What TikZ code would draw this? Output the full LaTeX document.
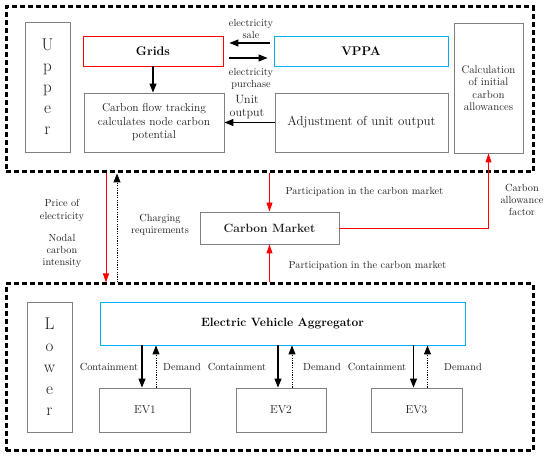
\documentclass[tikz,border=0pt]{standalone}
\usetikzlibrary{arrows.meta,calc}
\definecolor{bxgray}{RGB}{128,128,128}
\definecolor{bxblue}{RGB}{0,176,240}
\definecolor{txt}{RGB}{30,30,30}
\tikzset{
  layer/.style={draw=black, line width=3pt, dash pattern=on 5pt off 3pt, inner sep=0pt},
  gbox/.style={draw=bxgray, line width=0.9pt, inner sep=0pt, align=center, text=txt},
  rbox/.style={draw=red, line width=0.9pt, inner sep=0pt, align=center},
  bbox/.style={draw=bxblue, line width=0.9pt, inner sep=0pt, align=center},
  lbl/.style={align=center, text=txt, font=\fontsize{10.3}{12}\selectfont, inner sep=0pt},
  blk/.style={draw=black, line width=1.1pt, -{Triangle[length=9pt,width=7pt]}},
  dotarr/.style={draw=black, line width=1pt, dash pattern=on 1.2pt off 1.2pt, -{Triangle[length=9pt,width=7pt]}},
  red/.style={draw=red, line width=0.9pt, -{Triangle[length=9pt,width=6pt]}},
}
\begin{document}
\begin{tikzpicture}[x=1pt,y=-1pt]
\useasboundingbox (0,0) rectangle (550,457);
% layers
\node[layer, minimum width=527pt, minimum height=165pt] (upper) at (269.5,89.5) {};
\node[layer, minimum width=527pt, minimum height=167pt] (lower) at (269.5,367.5) {};
% upper boxes
\node[gbox, minimum width=45pt, minimum height=130pt, font=\fontsize{17}{21}\selectfont] (upl) at (47.5,87) {U\\p\\p\\e\\r};
\node[rbox, minimum width=140pt, minimum height=30pt, font=\fontsize{12.5}{14}\selectfont\bfseries] (grids) at (153,51) {Grids};
\node[gbox, minimum width=140pt, minimum height=59pt, font=\fontsize{11.5}{13.5}\selectfont] (cft) at (154,122.5) {Carbon flow tracking\\calculates node carbon\\potential};
\node[bbox, minimum width=174pt, minimum height=30pt, font=\fontsize{12.5}{14}\selectfont\bfseries] (vppa) at (361,51) {VPPA};
\node[gbox, minimum width=173pt, minimum height=59pt, font=\fontsize{13}{14}\selectfont] (adj) at (361.5,122.5) {Adjustment of unit output};
\node[gbox, minimum width=69pt, minimum height=130pt, font=\fontsize{11}{12.4}\selectfont] (calc) at (488.5,88) {Calculation\\of initial\\carbon\\allowances};
% middle
\node[gbox, minimum width=139pt, minimum height=32pt, font=\fontsize{12}{14}\selectfont\bfseries] (cm) at (269.5,228) {Carbon Market};
% lower boxes
\node[gbox, minimum width=45pt, minimum height=130pt, font=\fontsize{17}{21.5}\selectfont] (lowl) at (49.5,367) {L\\o\\w\\e\\r};
\node[bbox, minimum width=365pt, minimum height=43pt, font=\fontsize{12}{14}\selectfont\bfseries] (eva) at (282.5,323.5) {Electric Vehicle Aggregator};
\node[gbox, minimum width=91pt, minimum height=44pt, font=\fontsize{11.5}{13}\selectfont] (ev1) at (145,410) {EV1};
\node[gbox, minimum width=90pt, minimum height=44pt, font=\fontsize{11.5}{13}\selectfont] (ev2) at (281,410) {EV2};
\node[gbox, minimum width=91pt, minimum height=44pt, font=\fontsize{11.5}{13}\selectfont] (ev3) at (416.5,410) {EV3};
% upper connectors (yshift is in canvas units: positive = up)
\draw[blk, shorten <=4pt, shorten >=6pt] ([yshift=8pt]vppa.west) -- ([yshift=8pt]vppa.west -| grids.east);
\draw[blk, shorten <=6pt, shorten >=6pt] ([yshift=-7pt]grids.east) -- ([yshift=-7pt]grids.east -| vppa.west);
\node[lbl] (sale) at (251,29) {electricity\\sale};
\node[lbl] (purch) at (251,79) {electricity\\purchase};
\draw[blk] (grids.south) -- (grids.south |- cft.north);
\draw[blk] (adj.west) -- (cft.east);
\node[lbl, font=\fontsize{12}{13.5}\selectfont] (uo) at (247,107) {Unit\\output};
% between layers
\draw[red] ([xshift=-163.5pt]upper.south) -- ([xshift=-163.5pt]lower.north);
\draw[dotarr] ([xshift=-152.5pt]lower.north) -- ([xshift=-152.5pt]upper.south);
\node[lbl, font=\fontsize{10.3}{13}\selectfont] (price) at (62,210.5) {Price of\\electricity};
\node[lbl] (nodal) at (62,250.5) {Nodal\\carbon\\intensity};
\node[lbl] (charg) at (160,225) {Charging\\requirements};
\draw[red] (upper.south -| cm.north) -- (cm.north);
\draw[red] (lower.north -| cm.south) -- (cm.south);
\node[lbl] (p1) at (364.5,192) {Participation in the carbon market};
\node[lbl] (p2) at (367.5,266) {Participation in the carbon market};
\draw[red] (cm.east) -| (calc.south);
\node[lbl] (caf) at (522,199.5) {Carbon\\allowance\\factor};
% lower connectors
\foreach \e in {ev1,ev2,ev3}{
  \draw[blk] ([xshift=-3pt]\e.north |- eva.south) -- ([xshift=-3pt]\e.north);
  \draw[dotarr] ([xshift=11pt]\e.north) -- ([xshift=11pt]\e.north |- eva.south);
}
\node[lbl] (c1) at (109,367) {Containment};
\node[lbl] (d1) at (182,367) {Demand};
\node[lbl] (c2) at (237,367) {Containment};
\node[lbl] (d2) at (322,367) {Demand};
\node[lbl] (c3) at (377,367) {Containment};
\node[lbl] (d3) at (463,367) {Demand};
\end{tikzpicture}
\end{document}
